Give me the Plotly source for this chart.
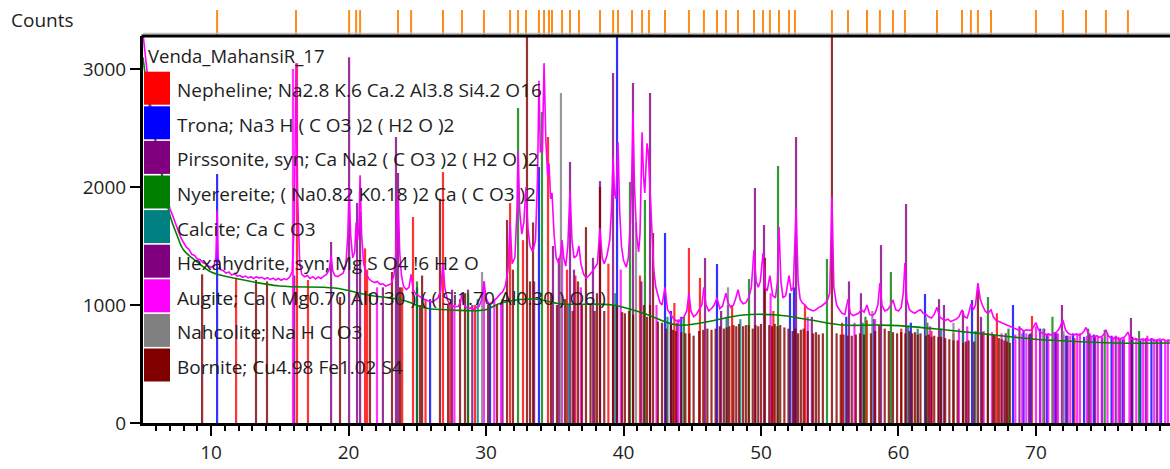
import plotly.graph_objects as go

# ---------------- data ----------------
sample_name = "Venda_MahansiR_17"

scan_2theta = [5.05, 5.3, 5.6, 5.9, 6.2, 6.5, 6.8,
               7.0, 7.2, 7.4, 7.6, 7.8, 8.0, 8.2, 8.4, 8.6, 8.8, 9.0, 9.2, 9.4, 9.6, 9.8, 10.0, 10.2, 10.35, 10.44, 10.52,
               10.7, 10.9, 11.1, 11.3, 11.5, 11.7, 11.9, 12.1, 12.3, 12.5, 12.7, 12.9, 13.1, 13.3, 13.5, 13.7, 13.9, 14.1,
               14.3, 14.5, 14.7, 14.9, 15.1, 15.3, 15.5, 15.7, 15.9, 16.05, 16.18, 16.3, 16.45, 16.6, 16.8, 17.0, 17.2,
               17.4, 17.6, 17.8, 18.0, 18.2, 18.4, 18.6, 18.73, 18.85, 19.0, 19.2, 19.4, 19.6, 19.8, 19.95, 20.04, 20.15,
               20.3, 20.45, 20.55, 20.65, 20.75, 20.84, 20.95, 21.1, 21.3, 21.5, 21.7, 21.9, 22.1, 22.3, 22.5, 22.7, 22.9,
               23.1, 23.3, 23.45, 23.6, 23.72, 23.85, 24.0, 24.2, 24.4, 24.55, 24.7, 24.9, 25.1, 25.3, 25.5, 25.7, 25.9,
               26.1, 26.3, 26.5, 26.7, 26.87, 27.0, 27.2, 27.4, 27.6, 27.8, 28.0, 28.15, 28.25, 28.35, 28.5, 28.7, 28.9,
               29.1, 29.3, 29.5, 29.7, 29.85, 30.0, 30.2, 30.4, 30.6, 30.8, 31.0, 31.2, 31.4, 31.6, 31.75, 31.9, 32.1,
               32.25, 32.33, 32.45, 32.6, 32.75, 32.91, 33.05, 33.2, 33.4, 33.6, 33.75, 33.85, 33.95, 34.1, 34.22, 34.35,
               34.48, 34.58, 34.7, 34.8, 34.95, 35.1, 35.3, 35.45, 35.53, 35.65, 35.8, 35.95, 36.11, 36.25, 36.4, 36.6,
               36.76, 36.9, 37.1, 37.3, 37.5, 37.7, 37.9, 38.1, 38.29, 38.45, 38.6, 38.8, 39.0, 39.12, 39.24, 39.35,
               39.45, 39.6, 39.72, 39.85, 40.0, 40.2, 40.35, 40.5, 40.6, 40.69, 40.8, 40.95, 41.1, 41.2, 41.35, 41.45,
               41.55, 41.71, 41.8, 41.93, 42.05, 42.2, 42.35, 42.5, 42.65, 42.8, 43.02, 43.2, 43.4, 43.6, 43.8, 44.0,
               44.2, 44.4, 44.6, 44.76, 44.9, 45.1, 45.3, 45.5, 45.7, 45.85, 46.0, 46.2, 46.4, 46.6, 46.8, 47.0, 47.2,
               47.45, 47.6, 47.8, 48.0, 48.15, 48.33, 48.5, 48.7, 48.9, 49.1, 49.3, 49.49, 49.65, 49.8, 49.95, 50.15,
               50.3, 50.45, 50.65, 50.85, 51.05, 51.2, 51.31, 51.45, 51.6, 51.8, 52.04, 52.2, 52.35, 52.55, 52.7, 52.85,
               53.0, 53.2, 53.4, 53.6, 53.8, 54.0, 54.2, 54.4, 54.6, 54.8, 55.0, 55.16, 55.3, 55.5, 55.7, 55.9, 56.1,
               56.33, 56.5, 56.7, 56.9, 57.1, 57.3, 57.5, 57.71, 57.9, 58.1, 58.3, 58.5, 58.65, 58.8, 59.0, 59.2, 59.4,
               59.6, 59.8, 60.0, 60.2, 60.35, 60.47, 60.6, 60.8, 61.0, 61.2, 61.4, 61.6, 61.8, 62.0, 62.2, 62.4, 62.6,
               62.8, 63.0, 63.2, 63.4, 63.6, 63.8, 64.0, 64.2, 64.4, 64.62, 64.8, 65.0, 65.15, 65.27, 65.45, 65.6, 65.78,
               65.95, 66.1, 66.3, 66.5, 66.73, 66.9, 67.1, 67.3, 67.5, 67.7, 67.9, 68.1, 68.3, 68.5, 68.7, 68.9, 69.1,
               69.3, 69.5, 69.7, 69.85, 70.0, 70.15, 70.3, 70.5, 70.7, 70.9, 71.1, 71.3, 71.5, 71.7, 71.96, 72.15, 72.35,
               72.55, 72.75, 72.95, 73.15, 73.35, 73.5, 73.64, 73.8, 74.0, 74.2, 74.4, 74.6, 74.8, 75.0, 75.09, 75.25,
               75.45, 75.65, 75.85, 76.05, 76.25, 76.45, 76.69, 76.85, 77.05, 77.25, 77.45, 77.65, 77.85, 78.05, 78.25,
               78.45, 78.65, 78.85, 79.05, 79.25, 79.45, 79.75]
scan_counts = [3300, 3000, 2700, 2450, 2250, 2080, 1920,
               1820, 1760, 1690, 1640, 1570, 1530, 1490, 1470, 1430, 1420, 1390, 1385, 1360, 1350, 1330, 1320, 1330, 1400, 1800, 1400,
               1300, 1290, 1270, 1280, 1255, 1265, 1245, 1250, 1235, 1245, 1230, 1240, 1225, 1240, 1228, 1235, 1220, 1232,
               1215, 1228, 1212, 1225, 1210, 1222, 1215, 1235, 1280, 1700, 3050, 1900, 1350, 1260, 1240, 1250, 1225,
               1240, 1220, 1238, 1225, 1245, 1260, 1300, 1420, 1290, 1250, 1240, 1255, 1270, 1330, 1600, 2000, 1600,
               1400, 1450, 1700, 1550, 1650, 2100, 1600, 1350, 1260, 1220, 1200, 1190, 1200, 1175, 1180, 1160, 1170,
               1180, 1250, 1450, 1950, 1450, 1250, 1160, 1130, 1150, 1260, 1130, 1090, 1080, 1060, 1050, 1035, 1030,
               1025, 1040, 1060, 1120, 1360, 1150, 1040, 1000, 995, 985, 990, 1030, 1100, 1020, 985, 970, 975,
               965, 980, 990, 1050, 1200, 1060, 1010, 1020, 1040, 1060, 1090, 1110, 1160, 1300, 1700, 1350, 1400,
               1800, 2300, 1800, 1600, 1700, 2000, 1650, 1500, 1450, 1550, 2100, 2900, 2300, 2300, 3050, 2400,
               2100, 2200, 1900, 1950, 1600, 1400, 1350, 1450, 1550, 1400, 1330, 1500, 1975, 1550, 1400, 1420,
               1500, 1350, 1260, 1230, 1250, 1280, 1320, 1350, 1650, 1400, 1350, 1420, 1550, 1800, 2250, 1950,
               1900, 2380, 1800, 1500, 1380, 1320, 1400, 1700, 2100, 2630, 2000, 1600, 1450, 1600, 2465, 2100,
               1950, 2370, 2300, 2000, 1600, 1300, 1150, 1080, 1020, 1000, 1150, 960, 920, 890, 870, 860,
               880, 900, 950, 1100, 950, 900, 920, 960, 1000, 1150, 1000, 950, 970, 1000, 1060, 970, 990,
               1100, 1020, 980, 1000, 1050, 1130, 1040, 1010, 1020, 1060, 1150, 1466, 1200, 1150, 1200, 1440,
               1150, 1120, 1250, 1080, 1060, 1200, 1660, 1200, 1060, 1080, 1250, 1120, 1150, 1820, 1200, 1050,
               1020, 1000, 970, 960, 950, 960, 980, 990, 1010, 1030, 1100, 1915, 1150, 1000, 960, 930, 920,
               1050, 930, 910, 920, 930, 960, 940, 1000, 920, 910, 930, 1000, 1186, 1000, 950, 960, 990,
               1042, 960, 950, 980, 1100, 1356, 1050, 960, 940, 930, 950, 960, 930, 920, 900, 890, 920,
               980, 900, 880, 870, 880, 860, 870, 880, 900, 960, 900, 890, 950, 1010, 960, 1000, 1186,
               1050, 1000, 950, 930, 960, 900, 870, 860, 850, 840, 830, 820, 810, 800, 790, 800, 780,
               790, 785, 790, 820, 850, 800, 770, 760, 750, 755, 745, 760, 770, 800, 873, 790, 760,
               750, 745, 755, 745, 760, 780, 810, 760, 735, 730, 740, 725, 735, 760, 790, 740,
               720, 715, 725, 710, 720, 730, 770, 720, 705, 715, 700, 710, 700, 715, 700,
               710, 695, 705, 700, 710, 695, 700]

bg_2theta = [5.05, 5.5, 6.0, 6.5, 7.0, 7.5, 8.0, 9.0, 10.0, 12.0, 15.0, 19.0, 21.4, 23.9, 25.6, 27.5, 29.9, 31.1,
             33.5, 35.4, 39.2, 41.4, 43.9, 45.6, 48.7, 51.2, 53.6, 56.0, 58.4, 60.0, 63.5, 68.3, 70.8, 75.6, 79.75]
bg_counts = [3100, 2700, 2350, 2050, 1763, 1600, 1466, 1364, 1280, 1220, 1161, 1144, 1085, 1042, 975, 958, 958, 1017,
             1051, 1010, 1000, 932, 830, 847, 915, 915, 873, 830, 830, 825, 788, 729, 703, 678, 678]

peak_markers = [10.44, 16.18, 20.04, 20.55, 20.84, 23.60, 24.55, 26.87, 28.25, 29.85, 31.75, 32.33, 32.91, 33.85,
                34.22, 34.58, 34.80, 35.53, 36.11, 36.76, 38.29, 39.24, 39.60, 40.62, 41.35, 41.85, 43.02, 44.76,
                45.85, 46.80, 47.45, 48.33, 49.49, 50.15, 50.65, 51.31, 52.04, 52.47, 55.16, 56.33, 57.71, 58.65,
                59.60, 60.47, 62.80, 64.62, 65.27, 65.78, 66.73, 70.00, 71.96, 73.64, 75.09, 76.69]

phase_names = [
    "Nepheline; Na2.8 K.6 Ca.2 Al3.8 Si4.2 O16",
    "Trona; Na3 H ( C O3 )2 ( H2 O )2",
    "Pirssonite, syn; Ca Na2 ( C O3 )2 ( H2 O )2",
    "Nyerereite; ( Na0.82 K0.18 )2 Ca ( C O3 )2",
    "Calcite; Ca C O3",
    "Hexahydrite, syn; Mg S O4 !6 H2 O",
    "Augite; Ca ( Mg0.70 Al0.30 ) ( ( Si1.70 Al0.30 ) O6 )",
    "Nahcolite; Na H C O3",
    "Bornite; Cu4.98 Fe1.02 S4",
]
phase_colors = ["#ff0000", "#0000ff", "#800080", "#008000", "#008080", "#800080", "#ff00ff", "#808080", "#800000"]

nepheline_pos = [11.82, 16.25, 17.05, 21.20, 21.35, 23.90, 24.69, 25.60, 26.87, 27.40, 29.20, 31.75, 32.69, 34.51, 35.89,
                 36.50, 38.90, 41.20, 43.70, 44.76, 45.56, 47.90, 50.90, 53.20, 55.90, 57.70, 60.20, 62.40, 64.00, 67.16,
                 69.71, 72.80, 76.40]
nepheline_top = [1230, 3050, 1212, 1480, 1300, 1150, 1746, 1050, 2127, 1020, 1000, 1864, 1550, 2424, 1300,
                 1250, 1350, 1250, 1017, 1483, 1230, 1000, 950, 1000, 850, 870, 800, 780, 760, 930,
                 907, 720, 700]
trona_pos = [10.44, 24.98, 25.93, 30.29, 33.85, 39.53, 43.02, 43.45, 44.20, 46.80, 47.60, 52.11, 52.40, 56.20, 58.20,
             60.90, 61.93, 65.35, 68.33, 69.10, 69.60, 70.30, 70.80, 71.40, 72.20, 72.70, 73.50, 74.20, 74.80, 75.50,
             76.30, 77.00, 77.60, 78.40, 79.10]
trona_top = [2110, 1150, 1050, 1000, 2169, 3400, 1610, 950, 900, 1347, 1000, 1100, 1150, 900, 880,
             850, 1093, 1042, 1000, 780, 760, 800, 750, 770, 740, 760, 730, 750, 720, 740,
             710, 730, 700, 720, 700]
pirssonite_pos = [18.73, 20.04, 20.62, 23.45, 27.53, 28.69, 34.87, 36.11, 38.29, 39.24, 40.69, 41.93, 45.93, 49.56,
                  50.22, 52.55, 58.73, 60.55, 64.69, 71.89, 76.91]
pirssonite_top = [1534, 3100, 1865, 2424, 1130, 1130, 1500, 2212, 2050, 2966, 2881, 2797, 1398, 1992,
                  1678, 2424, 1508, 1856, 950, 1000, 890]
nyerereite_pos = [24.98, 28.69, 32.33, 34.07, 40.47, 41.56, 44.40, 49.13, 51.24, 54.80, 57.60, 59.45, 62.10, 66.51,
                  68.00, 71.20, 73.80, 75.00, 77.50]
nyerereite_top = [1200, 1100, 2669, 2636, 2042, 1890, 900, 1220, 2178, 1390, 900, 1280, 850, 1068,
                  800, 900, 800, 790, 780]
calcite_pos = [29.40, 36.00, 39.40, 43.20, 47.50, 48.50, 57.40, 60.70, 61.40, 63.10, 64.70, 65.60]
calcite_top = [1050, 1000, 1100, 900, 900, 880, 850, 820, 800, 800, 780, 780]
hexahydrite_pos = [16.05, 20.84, 22.50, 23.60, 29.00, 31.20, 33.50, 35.30, 36.40, 37.78, 41.30, 43.90, 47.10, 53.70,
                   56.40, 57.27, 62.95, 63.31, 66.00, 67.80, 68.80, 69.50, 70.60, 71.50, 72.30, 73.90, 74.30, 75.80,
                   76.10, 77.00, 78.00, 78.80]
hexahydrite_top = [1250, 1790, 1150, 2119, 1000, 1050, 1200, 1400, 1300, 1400, 1200, 850, 950, 900,
                   1200, 1100, 1050, 1000, 900, 760, 820, 750, 800, 760, 740, 760, 730, 740,
                   720, 730, 720, 710]
augite_pos = [15.96, 22.07, 27.70, 29.85, 30.60, 31.09, 35.53, 36.90, 39.80, 42.40, 44.00, 50.70, 53.40, 56.80, 58.30,
              62.30, 64.40, 65.00, 66.20, 66.80, 67.50, 68.50, 69.00, 69.30, 70.00, 70.30, 70.90, 71.30, 71.60, 72.00,
              72.50, 73.00, 73.20, 73.70, 74.00, 74.50, 74.80, 75.20, 75.60, 76.00, 76.40, 76.80, 77.30, 77.80, 78.10,
              78.60, 79.00, 79.40, 79.60]
augite_top = [3000, 1150, 1000, 1200, 1050, 1000, 1500, 1150, 1300, 1000, 880, 1100, 900, 850, 880,
              820, 800, 820, 780, 770, 760, 750, 760, 760, 820, 760, 750, 760, 760, 750,
              740, 750, 760, 740, 735, 740, 730, 760, 730, 730, 725, 735, 720, 720, 740,
              715, 720, 700, 710]
nahcolite_pos = [29.71, 35.45, 40.91, 47.60, 58.10, 62.00, 64.00, 70.50, 72.00]
nahcolite_top = [1280, 2797, 1700, 1150, 950, 900, 850, 800, 780]
bornite_pos = [9.35, 13.27, 14.07, 19.38, 21.56, 23.16, 23.75, 25.20, 25.35, 26.65, 27.24, 28.11, 28.47, 30.15, 30.80,
               31.53, 31.96, 32.98, 33.20, 33.42, 34.73, 35.16, 35.75, 36.30, 36.69, 36.98, 37.27, 37.60, 37.90, 38.07,
               38.29, 38.60, 39.24, 39.53, 39.90, 40.10, 40.40, 40.70, 41.49, 41.71, 41.93, 42.15, 42.50, 42.80, 43.10,
               43.45, 43.60, 43.80, 44.20, 44.50, 44.80, 45.10, 45.50, 45.80, 46.10, 46.40, 46.70, 47.00, 47.30, 47.50,
               47.70, 48.00, 48.20, 48.40, 48.70, 48.90, 49.10, 49.40, 49.60, 49.80, 50.00, 50.29, 50.60, 50.80, 51.00,
               51.20, 51.40, 51.70, 52.00, 52.30, 52.50, 52.70, 52.90, 53.10, 53.40, 53.80, 54.00, 54.20, 54.50, 55.16,
               55.50, 55.80, 56.00, 56.30, 56.60, 56.90, 57.20, 57.50, 58.00, 58.30, 58.60, 59.00, 59.30, 59.60, 59.90,
               60.20, 60.50, 60.80, 61.00, 61.20, 61.40, 61.60, 62.00, 62.20, 62.40, 62.60, 62.90, 63.10, 63.40, 63.70,
               64.00, 64.30, 64.70, 64.90, 65.10, 65.50, 65.78, 66.10, 66.50, 66.90, 67.00, 67.30, 67.50, 67.70, 67.90,
               68.10]
bornite_top = [1260, 1212, 1200, 1068, 1100, 1280, 1150, 1000, 1250, 1900, 1000, 1050, 1100, 1000, 1000,
               1720, 1300, 3400, 1200, 1700, 1100, 1000, 1050, 950, 1200, 1000, 1660, 1000, 950, 1100,
               2000, 950, 1000, 1000, 940, 930, 950, 920, 1000, 900, 1000, 1610, 860, 850, 800,
               850, 790, 780, 770, 760, 760, 740, 780, 790, 800, 790, 800, 820, 800, 810,
               820, 830, 820, 840, 820, 830, 830, 800, 830, 820, 840, 1400, 830, 820, 840,
               820, 830, 810, 800, 780, 800, 760, 790, 800, 780, 760, 770, 750, 760, 3400,
               760, 750, 750, 740, 740, 750, 760, 750, 760, 780, 830, 800, 780, 770, 760,
               770, 760, 780, 760, 770, 750, 760, 740, 750, 730, 740, 730, 730, 720, 710,
               700, 700, 680, 690, 700, 690, 1140, 770, 760, 750, 740, 720, 710, 700, 690,
               680]

phase_sticks = [
    (nepheline_pos, nepheline_top),
    (trona_pos, trona_top),
    (pirssonite_pos, pirssonite_top),
    (nyerereite_pos, nyerereite_top),
    (calcite_pos, calcite_top),
    (hexahydrite_pos, hexahydrite_top),
    (augite_pos, augite_top),
    (nahcolite_pos, nahcolite_top),
    (bornite_pos, bornite_top),
]

x_range = [5.05, 79.75]
y_range = [0, 3280]

# ---------------- geometry (pixels) ----------------
W, H = 1170, 469
L, R, T, B = 143, 1170, 10, 423
FRAME_TOP = 36


def px(x):
    return (x - L) / (R - L)


def py(y):
    return (B - y) / (B - T)


FONT = "Open Sans, Noto Sans, sans-serif"
TXT = "#1e1e1e"

fig = go.Figure()


def rgba(hexc, a):
    hexc = hexc.lstrip("#")
    r, g, b = int(hexc[0:2], 16), int(hexc[2:4], 16), int(hexc[4:6], 16)
    return f"rgba({r},{g},{b},{a})"


# stick patterns
for (pos, top), col in zip(phase_sticks, phase_colors):
    xs, ys = [], []
    for p, t in zip(pos, top):
        xs += [p, p, None]
        ys += [0, t, None]
    fig.add_trace(go.Scatter(x=xs, y=ys, mode="lines", line=dict(color=rgba(col, 0.8), width=2.2),
                             hoverinfo="skip", showlegend=False))

# measured scan
fig.add_trace(go.Scatter(x=scan_2theta, y=scan_counts, mode="lines", line=dict(color="#ff00ff", width=1.6),
                         showlegend=False))
# background
fig.add_trace(go.Scatter(x=bg_2theta, y=bg_counts, mode="lines", line=dict(color="#008000", width=1.6, shape="spline"),
                         showlegend=False))

# peak markers strip above the plot
mx, my = [], []
for p in peak_markers:
    mx += [p, p, None]
    my += [0, 1, None]
fig.add_trace(go.Scatter(x=mx, y=my, mode="lines", line=dict(color="#ff8c1a", width=2), yaxis="y2",
                         hoverinfo="skip", showlegend=False))

main_top = py(FRAME_TOP)
FS = 19

fig.update_layout(
    width=W, height=H,
    margin=dict(l=L, r=W - R, t=T, b=H - B, pad=0),
    paper_bgcolor="white", plot_bgcolor="white",
    showlegend=False,
    font=dict(family=FONT, size=FS, color=TXT),
    xaxis=dict(range=x_range, tickmode="array", tickvals=[10, 20, 30, 40, 50, 60, 70],
               ticks="outside", ticklen=10, tickwidth=2, tickcolor="black",
               showline=True, linewidth=3, linecolor="black", showgrid=False, zeroline=False,
               minor=dict(ticks="outside", dtick=1, tick0=0, ticklen=5, tickwidth=1.5, tickcolor="black", showgrid=False),
               tickfont=dict(family=FONT, size=FS, color=TXT), anchor="y"),
    yaxis=dict(domain=[0, main_top], range=y_range, tickmode="array", tickvals=[0, 1000, 2000, 3000],
               ticks="outside", ticklen=10, tickwidth=2, tickcolor="black",
               showline=True, linewidth=3, linecolor="black", showgrid=False, zeroline=False,
               tickfont=dict(family=FONT, size=FS, color=TXT)),
    yaxis2=dict(domain=[py(35), py(10)], range=[0, 1], visible=False, anchor="x"),
)

shapes = []
shapes.append(dict(type="line", xref="paper", yref="paper", x0=0, x1=1, y0=py(33.5), y1=py(33.5),
                   line=dict(color="#c0c0c0", width=1.5)))
shapes.append(dict(type="line", xref="paper", yref="paper", x0=px(141.5), x1=1, y0=main_top, y1=main_top,
                   line=dict(color="black", width=3)))

annotations = []
annotations.append(dict(text="Counts", xref="paper", yref="paper", x=px(9), y=py(20), xanchor="left",
                        yanchor="middle", showarrow=False, font=dict(family=FONT, size=FS, color=TXT)))
annotations.append(dict(text=sample_name, xref="paper", yref="paper", x=px(146), y=py(55), xanchor="left",
                        yanchor="middle", showarrow=False, font=dict(family=FONT, size=18.5, color=TXT)))

row0, rowh, boxh = 71.7, 34.6, 33.0
for i, (name, col) in enumerate(zip(phase_names, phase_colors)):
    y0 = row0 + i * rowh
    shapes.append(dict(type="rect", xref="paper", yref="paper", x0=px(144), x1=px(170),
                       y0=py(y0 + boxh), y1=py(y0), fillcolor=col, line=dict(width=0), layer="above"))
    annotations.append(dict(text=name, xref="paper", yref="paper", x=px(175), y=py(y0 + boxh / 2 + 2),
                            xanchor="left", yanchor="middle", showarrow=False,
                            font=dict(family=FONT, size=FS, color=TXT)))

fig.update_layout(shapes=shapes, annotations=annotations)

fig.write_html("out.html")
